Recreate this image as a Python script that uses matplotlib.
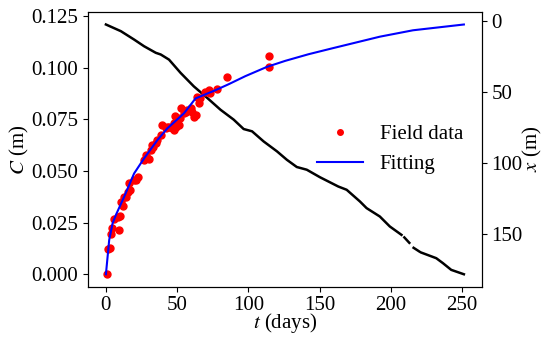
import numpy as np
import matplotlib
matplotlib.use('Agg')
import matplotlib.pyplot as plt

plt.rcParams['font.family'] = ['Liberation Serif', 'DejaVu Serif']
plt.rcParams['mathtext.fontset'] = 'stix'
plt.rcParams['font.size'] = 15

# field data (t in days, C in m)
field_t = [0.5, 1.2, 2.8, 3.5, 4.2, 8.9, 5.8, 8.2, 9.8, 10.5, 12.1, 12.8, 14.0, 15.2,
           17.0, 16.3, 19.4, 21.0, 22.2, 26.8, 28.4, 30.3, 31.5, 32.2, 33.3, 35.0,
           36.2, 38.5, 39.7, 42.0, 43.1, 44.3, 46.6, 47.8, 47.8, 49.0, 50.1, 51.3,
           52.0, 48.3, 52.4, 54.8, 55.9, 57.1, 59.4, 60.6, 61.8, 63.0, 64.0, 65.2,
           66.4, 69.9, 72.2, 73.4, 78.3, 85.1, 114.2, 114.2]
field_c = [0.0, 0.0122, 0.0129, 0.0195, 0.0222, 0.0214, 0.0266, 0.0276, 0.0282, 0.0351,
           0.0330, 0.0375, 0.0375, 0.0400, 0.0408, 0.0440, 0.0456, 0.0456, 0.0472, 0.0553,
           0.0577, 0.0556, 0.0601, 0.0625, 0.0617, 0.0633, 0.0650, 0.0674, 0.0722, 0.0706,
           0.0714, 0.0714, 0.0706, 0.0698, 0.0730, 0.0714, 0.0738, 0.0722, 0.0754, 0.0767,
           0.0803, 0.0779, 0.0786, 0.0794, 0.0803, 0.0786, 0.0762, 0.0770, 0.0859, 0.0827,
           0.0851, 0.0883, 0.0891, 0.0875, 0.0895, 0.0953, 0.1004, 0.1057]

# fitted curve
fit_t = [0, 2.3, 4.7, 7.0, 12.8, 19.8, 26.8, 36.2, 43.1, 54.8, 62.9, 76.9, 86.2,
         97.9, 113.1, 125.9, 142.2, 158.5, 192.3, 215.6, 251.3]
fit_c = [0.0, 0.0166, 0.0247, 0.0287, 0.0375, 0.0488, 0.0561, 0.0650, 0.0706, 0.0779,
         0.0851, 0.0891, 0.0920, 0.0959, 0.1004, 0.1033, 0.1065, 0.1093, 0.1150, 0.1181,
         0.1209]

# position x (m) vs time, nan = missing days
pos_t = [0, 10.5, 19.8, 26.8, 35.0, 38.5, 44.3, 52.4, 61.7, 71.1, 80.4, 89.7, 96.7,
         102.6, 110.7, 120.1, 127.0, 134.0, 141.0, 150.3, 163.1, 169.0, 178.3, 183.0,
         192.3, 199.3, 207.5, np.nan, 209.5, 213.0, np.nan, 216.0, 220.0, np.nan,
         221.5, 231.9, 236.6, 242.4, 251.3]
pos_x = [2.6, 7.3, 13.2, 17.9, 22.5, 23.7, 27.3, 36.6, 46.1, 54.2, 62.5, 69.5, 76.1,
         77.7, 84.8, 91.8, 97.7, 102.8, 104.7, 110.0, 116.5, 118.8, 127.0, 131.7,
         137.6, 144.6, 150.5, np.nan, 152.3, 156.1, np.nan, 159.6, 162.2, np.nan,
         163.0, 166.9, 170.4, 175.1, 178.2]

fig = plt.figure(figsize=(5.45, 3.43), dpi=100)
ax = fig.add_axes([0.1615, 0.164, 0.7225, 0.801])
ax2 = ax.twinx()

ax2.plot(pos_t, pos_x, color='black', lw=1.8)
ax2.invert_yaxis()

ax.plot(field_t, field_c, 'o', color='red', ms=5, label='Field data', zorder=3)
ax.plot(fit_t, fit_c, '-', color='blue', lw=1.5, label='Fitting', zorder=4)
ax.set_zorder(ax2.get_zorder() + 1)
ax.patch.set_visible(False)

ax.set_xlabel('$t$ (days)', labelpad=-3)
ax.set_ylabel('$C$ (m)', labelpad=0.5)
ax2.set_ylabel('$x$ (m)', labelpad=-1)
ax.set_yticks([0, 0.025, 0.05, 0.075, 0.1, 0.125])
ax.yaxis.set_major_formatter(matplotlib.ticker.FormatStrFormatter('%.3f'))
ax.set_xticks([0, 50, 100, 150, 200, 250])
ax2.set_yticks([0, 50, 100, 150])

ax.legend(loc='center right', bbox_to_anchor=(1.0, 0.50), frameon=False,
          handlelength=2.2, markerscale=0.8)

fig.savefig('out.png', dpi=100)
